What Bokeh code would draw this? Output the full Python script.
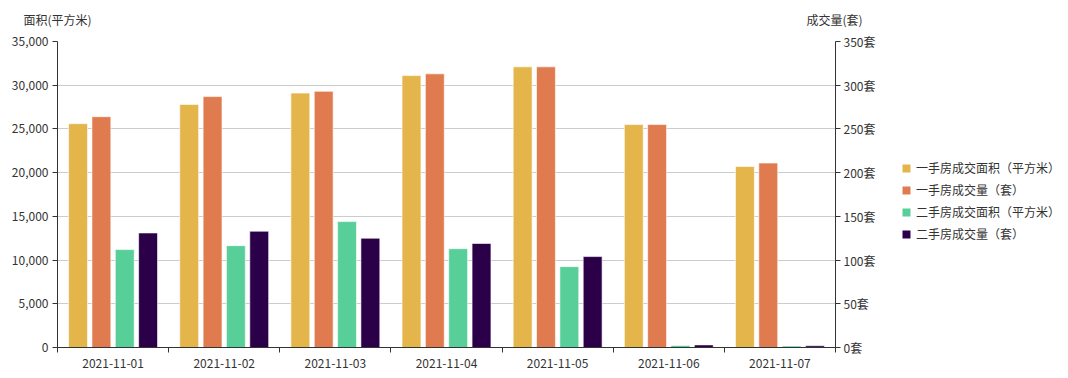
from bokeh.plotting import figure
from bokeh.layouts import column, row
from bokeh.models import (Range1d, LinearAxis, FixedTicker, NumeralTickFormatter,
                          PrintfTickFormatter, Legend, LegendItem, Label)
from bokeh.embed import file_html
from bokeh.resources import INLINE

dates = ["2021-11-01", "2021-11-02", "2021-11-03", "2021-11-04", "2021-11-05", "2021-11-06", "2021-11-07"]
new_area = [25600, 27800, 29100, 31100, 32100, 25500, 20700]
new_count = [264, 287, 293, 313, 321, 255, 211]
second_area = [11200, 11650, 14400, 11300, 9250, 230, 180]
second_count = [131, 133, 125, 119, 104, 3, 2]
series_names = ["一手房成交面积（平方米）", "一手房成交量（套）", "二手房成交面积（平方米）", "二手房成交量（套）"]
colors = ["#e4b54b", "#e07b4f", "#58cf98", "#2b0049"]
left_ticks = [0, 5000, 10000, 15000, 20000, 25000, 30000, 35000]
right_ticks = [0, 50, 100, 150, 200, 250, 300, 350]
left_name = "面积(平方米)"
right_name = "成交量(套)"

FONT = "Noto Sans CJK SC"
TXT = "#333333"

# ---------------- main chart ----------------
p = figure(frame_width=778, frame_height=306, output_backend="svg", toolbar_location=None,
           x_range=Range1d(0, len(dates)), y_range=Range1d(0, 35000),
           min_border_left=57, min_border_right=0, min_border_top=10, min_border_bottom=31)
p.outline_line_color = None
p.extra_y_ranges = {"right": Range1d(0, 350)}

centers = [i + 0.5 for i in range(len(dates))]
offsets = [-0.315, -0.105, 0.105, 0.315]
data = [new_area, new_count, second_area, second_count]
ranges = ["default", "right", "default", "right"]
for k in range(4):
    xs = [c + offsets[k] for c in centers]
    p.vbar(x=xs, top=data[k], bottom=0, width=0.17, fill_color=colors[k],
           line_color="white", line_alpha=0.6, line_width=1, y_range_name=ranges[k])

xa = p.xaxis[0]
xa.ticker = FixedTicker(ticks=centers, minor_ticks=list(range(len(dates) + 1)))
xa.major_label_overrides = {c: d for c, d in zip(centers, dates)}
xa.major_tick_out = 0
xa.major_tick_in = 0
xa.minor_tick_out = 5
xa.minor_tick_in = 0
xa.minor_tick_line_color = TXT
xa.axis_line_color = TXT
xa.major_label_text_font = FONT
xa.major_label_text_font_size = "12px"
xa.major_label_text_color = TXT
xa.major_label_standoff = 6

ya = p.yaxis[0]
ya.ticker = FixedTicker(ticks=left_ticks)
ya.formatter = NumeralTickFormatter(format="0,0")
ya.major_tick_out = 5
ya.major_tick_in = 0
ya.minor_tick_line_color = None
ya.axis_line_color = TXT
ya.major_tick_line_color = TXT
ya.major_label_text_font = FONT
ya.major_label_text_font_size = "12px"
ya.major_label_text_color = TXT
ya.major_label_standoff = 4

ra = LinearAxis(y_range_name="right", ticker=FixedTicker(ticks=right_ticks),
                formatter=PrintfTickFormatter(format="%d套"))
ra.major_tick_out = 5
ra.major_tick_in = 0
ra.minor_tick_line_color = None
ra.axis_line_color = TXT
ra.major_tick_line_color = TXT
ra.major_label_text_font = FONT
ra.major_label_text_font_size = "12px"
ra.major_label_text_color = TXT
ra.major_label_standoff = 3
p.add_layout(ra, "right")

p.xgrid.grid_line_color = None
p.ygrid.ticker = FixedTicker(ticks=left_ticks)
p.ygrid.grid_line_color = "#cccccc"

# ---------------- axis names strip ----------------
top = figure(width=1068, height=31, output_backend="svg", toolbar_location=None,
             x_range=Range1d(0, 1068), y_range=Range1d(0, 31),
             min_border=0, x_axis_location=None, y_axis_location=None)
top.outline_line_color = None
top.grid.grid_line_color = None
top.add_layout(Label(x=57, y=12, text=left_name, text_align="center", text_baseline="middle",
                     text_font=FONT, text_font_size="12px", text_color=TXT))
top.add_layout(Label(x=834, y=12, text=right_name, text_align="center", text_baseline="middle",
                     text_font=FONT, text_font_size="12px", text_color=TXT))

# ---------------- legend panel ----------------
lg = figure(width=189, height=347, output_backend="svg", toolbar_location=None,
            x_range=Range1d(0, 1), y_range=Range1d(0, 1),
            min_border=0, x_axis_location=None, y_axis_location=None)
lg.outline_line_color = None
lg.grid.grid_line_color = None
items = []
for k in range(4):
    # zero-height placeholder so the legend can draw its swatch
    r = lg.vbar(x=[0.5], top=[0], bottom=[0], width=0.0, fill_color=colors[k], line_color=None)
    items.append(LegendItem(label=series_names[k], renderers=[r]))
legend = Legend(items=items, location=(23, 105), orientation="vertical")
legend.border_line_color = None
legend.background_fill_alpha = 0
legend.label_text_font = FONT
legend.label_text_font_size = "12px"
legend.label_text_color = TXT
legend.glyph_width = 10
legend.glyph_height = 10
legend.label_height = 12
legend.spacing = 5
legend.label_standoff = 5
legend.margin = 0
legend.padding = 0
lg.add_layout(legend, "center")

layout = column(top, row(p, lg, spacing=0), spacing=0)
open("out.html", "w").write(file_html(layout, INLINE))
